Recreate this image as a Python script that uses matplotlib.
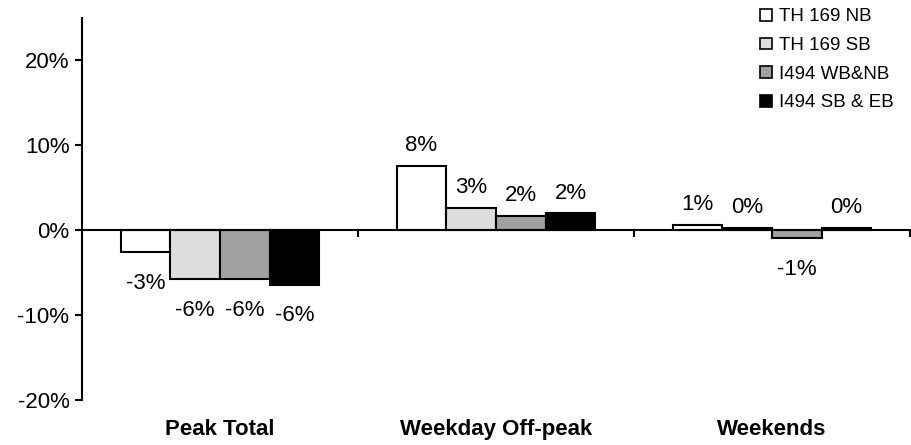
import numpy as np
import matplotlib.pyplot as plt
from matplotlib.patches import Patch

plt.rcParams['font.family'] = ['Liberation Sans', 'DejaVu Sans']

categories = ['Peak Total', 'Weekday Off-peak', 'Weekends']
series = ['TH 169 NB', 'TH 169 SB', 'I494 WB&NB', 'I494 SB & EB']
th169_nb = [-2.6, 7.6, 0.6]
th169_sb = [-5.8, 2.6, 0.3]
i494_wb_nb = [-5.8, 1.7, -0.9]
i494_sb_eb = [-6.4, 2.0, 0.3]
values = [th169_nb, th169_sb, i494_wb_nb, i494_sb_eb]
colors = ['white', '#dddddd', '#a0a0a0', 'black']

fs = 16

fig = plt.figure(figsize=(9.11, 4.45), dpi=100)
ax = fig.add_axes([82/911, 45/445, 828/911, 382/445])

x = np.arange(len(categories))
w = 0.18
for i, vals in enumerate(values):
    pos = x + (i - 1.5) * w
    ax.bar(pos, vals, w, color=colors[i], edgecolor='black', linewidth=1.5, zorder=3)
    for p, v in zip(pos, vals):
        # data labels sit just outside the end of each bar
        if v >= 0:
            ax.annotate(f'{round(v):.0f}%', (p, v), xytext=(0, 7), textcoords='offset points',
                        ha='center', va='bottom', fontsize=fs)
        else:
            ax.annotate(f'{round(v):.0f}%', (p, v), xytext=(0, -15), textcoords='offset points',
                        ha='center', va='top', fontsize=fs)

ax.set_xlim(-0.5, 2.5)
ax.set_ylim(-20, 25)
ax.set_yticks([-20, -10, 0, 10, 20])
ax.set_yticklabels(['-20%', '-10%', '0%', '10%', '20%'], fontsize=fs)
ax.tick_params(axis='y', direction='out', length=5, width=1.5, pad=4)

ax.spines['top'].set_visible(False)
ax.spines['right'].set_visible(False)
ax.spines['left'].set_linewidth(1.5)
ax.spines['bottom'].set_position(('data', 0))
ax.spines['bottom'].set_linewidth(1.5)
ax.spines['bottom'].set_zorder(4)
ax.set_xticks([0.5, 1.5, 2.5])
ax.set_xticklabels([])
ax.tick_params(axis='x', direction='out', length=5, width=1.5)

# category names go under the plot, not at the zero line
for xi, c in zip(x, categories):
    ax.annotate(c, (xi, 0), xycoords=('data', 'axes fraction'), xytext=(0, -14),
                textcoords='offset points', ha='center', va='top',
                fontsize=fs, fontweight='bold')

handles = [Patch(facecolor=c, edgecolor='black', linewidth=1.2) for c in colors]
fig.legend(handles, series, loc='upper left', bbox_to_anchor=(752/911, 1.0),
           frameon=False, fontsize=13.5, handlelength=0.6, handleheight=0.6,
           handletextpad=0.4, labelspacing=0.62, borderaxespad=0.05)

fig.savefig('out.png', dpi=100)
